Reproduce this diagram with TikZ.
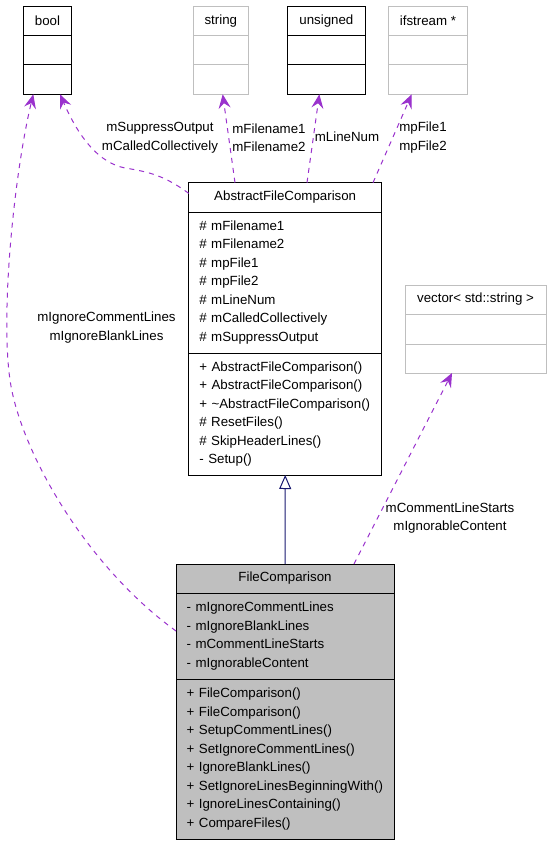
\documentclass[tikz,border=0pt]{standalone}
\usepackage{fontspec}
\setmainfont{Liberation Sans}
\usetikzlibrary{positioning,arrows.meta}
\definecolor{usepurple}{HTML}{9A32CD}
\definecolor{inhnavy}{HTML}{191970}
\definecolor{extgray}{HTML}{BFBFBF}
\begin{document}
\begin{tikzpicture}[x=1pt,y=-1pt,inner sep=0pt,outer sep=0pt,
font=\fontsize{13.3}{18.5}\selectfont,
cls/.style={draw,rectangle,line width=1pt},
extcls/.style={draw=extgray,rectangle,line width=1pt},
members/.style={align=left,inner xsep=10.7pt},
lbl/.style={align=center},
uses/.style={usepurple,line width=1pt,dash pattern=on 5pt off 5pt,-{Stealth[length=14pt,width=12pt,inset=5pt]}},
inherit/.style={inhnavy,line width=1pt,-{Triangle[open,length=14pt,width=12pt,fill=white]}}]
\useasboundingbox (0,0) rectangle (552,845);
\draw (47.5,21) node[cls,minimum width=48.4pt,minimum height=29.4pt] (boolhead) {bool};
\node[cls,minimum width=48.4pt,minimum height=29.3pt,below=0pt of boolhead] (boolattr) {};
\node[cls,minimum width=48.4pt,minimum height=29.3pt,below=0pt of boolattr] (boolops) {};
\draw (220.8,21) node[extcls,minimum width=55pt,minimum height=29.4pt] (stringhead) {string};
\node[extcls,minimum width=55pt,minimum height=29.3pt,below=0pt of stringhead] (stringattr) {};
\node[extcls,minimum width=55pt,minimum height=29.3pt,below=0pt of stringattr] (stringops) {};
\draw (326.35,21) node[cls,minimum width=77.3pt,minimum height=29.4pt] (unshead) {unsigned};
\node[cls,minimum width=77.3pt,minimum height=29.3pt,below=0pt of unshead] (unsattr) {};
\node[cls,minimum width=77.3pt,minimum height=29.3pt,below=0pt of unsattr] (unsops) {};
\draw (428,21) node[extcls,minimum width=79.4pt,minimum height=29.4pt] (ifshead) {ifstream *};
\node[extcls,minimum width=79.4pt,minimum height=29.3pt,below=0pt of ifshead] (ifsattr) {};
\node[extcls,minimum width=79.4pt,minimum height=29.3pt,below=0pt of ifsattr] (ifsops) {};
\draw (475.5,299.5) node[extcls,minimum width=141pt,minimum height=29pt] (vechead) {vector< std::string >};
\node[extcls,minimum width=141pt,minimum height=30pt,below=0pt of vechead] (vecattr) {};
\node[extcls,minimum width=141pt,minimum height=29pt,below=0pt of vecattr] (vecops) {};
\draw (285.2,197.35) node[cls,minimum width=193pt,minimum height=29.3pt] (abshead) {AbstractFileComparison};
\node[cls,members,text width=171.6pt,minimum height=141pt,below=0pt of abshead] (absattr)
 {\# mFilename1\\\# mFilename2\\\# mpFile1\\\# mpFile2\\\# mLineNum\\\# mCalledCollectively\\\# mSuppressOutput};
\node[cls,members,text width=171.6pt,minimum height=122pt,below=0pt of absattr] (absops)
 {+ AbstractFileComparison()\\+ AbstractFileComparison()\\+ \textasciitilde AbstractFileComparison()\\\# ResetFiles()\\\# SkipHeaderLines()\\- Setup()};
\draw (285,578.5) node[cls,fill=extgray,minimum width=218pt,minimum height=29pt] (fchead) {FileComparison};
\node[cls,members,fill=extgray,text width=196.6pt,minimum height=86pt,below=0pt of fchead] (fcattr)
 {- mIgnoreCommentLines\\- mIgnoreBlankLines\\- mCommentLineStarts\\- mIgnorableContent};
\node[cls,members,fill=extgray,text width=196.6pt,minimum height=160pt,below=0pt of fcattr] (fcops)
 {+ FileComparison()\\+ FileComparison()\\+ SetupCommentLines()\\+ SetIgnoreCommentLines()\\+ IgnoreBlankLines()\\+ SetIgnoreLinesBeginningWith()\\+ IgnoreLinesContaining()\\+ CompareFiles()};
\draw[inherit] (fchead.north) -- (absops.south);
\draw[uses] ([yshift=5pt]fcattr.west) .. controls (85,565) and (20,450) .. (10,380) .. controls (0,310) and (15,170) .. ([xshift=-14.2pt]boolops.south);
\draw[uses] ([yshift=4pt]abshead.west) .. controls (165,176) and (150,172) .. (125,168) .. controls (100,163) and (80,140) .. ([xshift=12.5pt]boolops.south);
\draw[uses] ([xshift=46.3pt]abshead.north west) -- ([xshift=1.9pt]stringops.south);
\draw[uses] ([xshift=118.3pt]abshead.north west) -- ([xshift=-7pt]unsops.south);
\draw[uses] ([xshift=184.3pt]abshead.north west) -- ([xshift=-16.3pt]ifsops.south);
\draw[uses] ([xshift=69pt]fchead.north) -- ([xshift=-23.5pt]vecops.south);
\node[lbl] (lblboolfc) at (106.5,327.5) {mIgnoreCommentLines\\mIgnoreBlankLines};
\node[lbl] (lblboolabs) at (160,137.5) {mSuppressOutput\\mCalledCollectively};
\node[lbl] (lblstring) at (269,137.5) {mFilename1\\mFilename2};
\node[lbl] (lblunsig) at (347,137) {mLineNum};
\node[lbl] (lblifs) at (423,137.5) {mpFile1\\mpFile2};
\node[lbl] (lblvec) at (450,518) {mCommentLineStarts\\mIgnorableContent};
\end{tikzpicture}
\end{document}
